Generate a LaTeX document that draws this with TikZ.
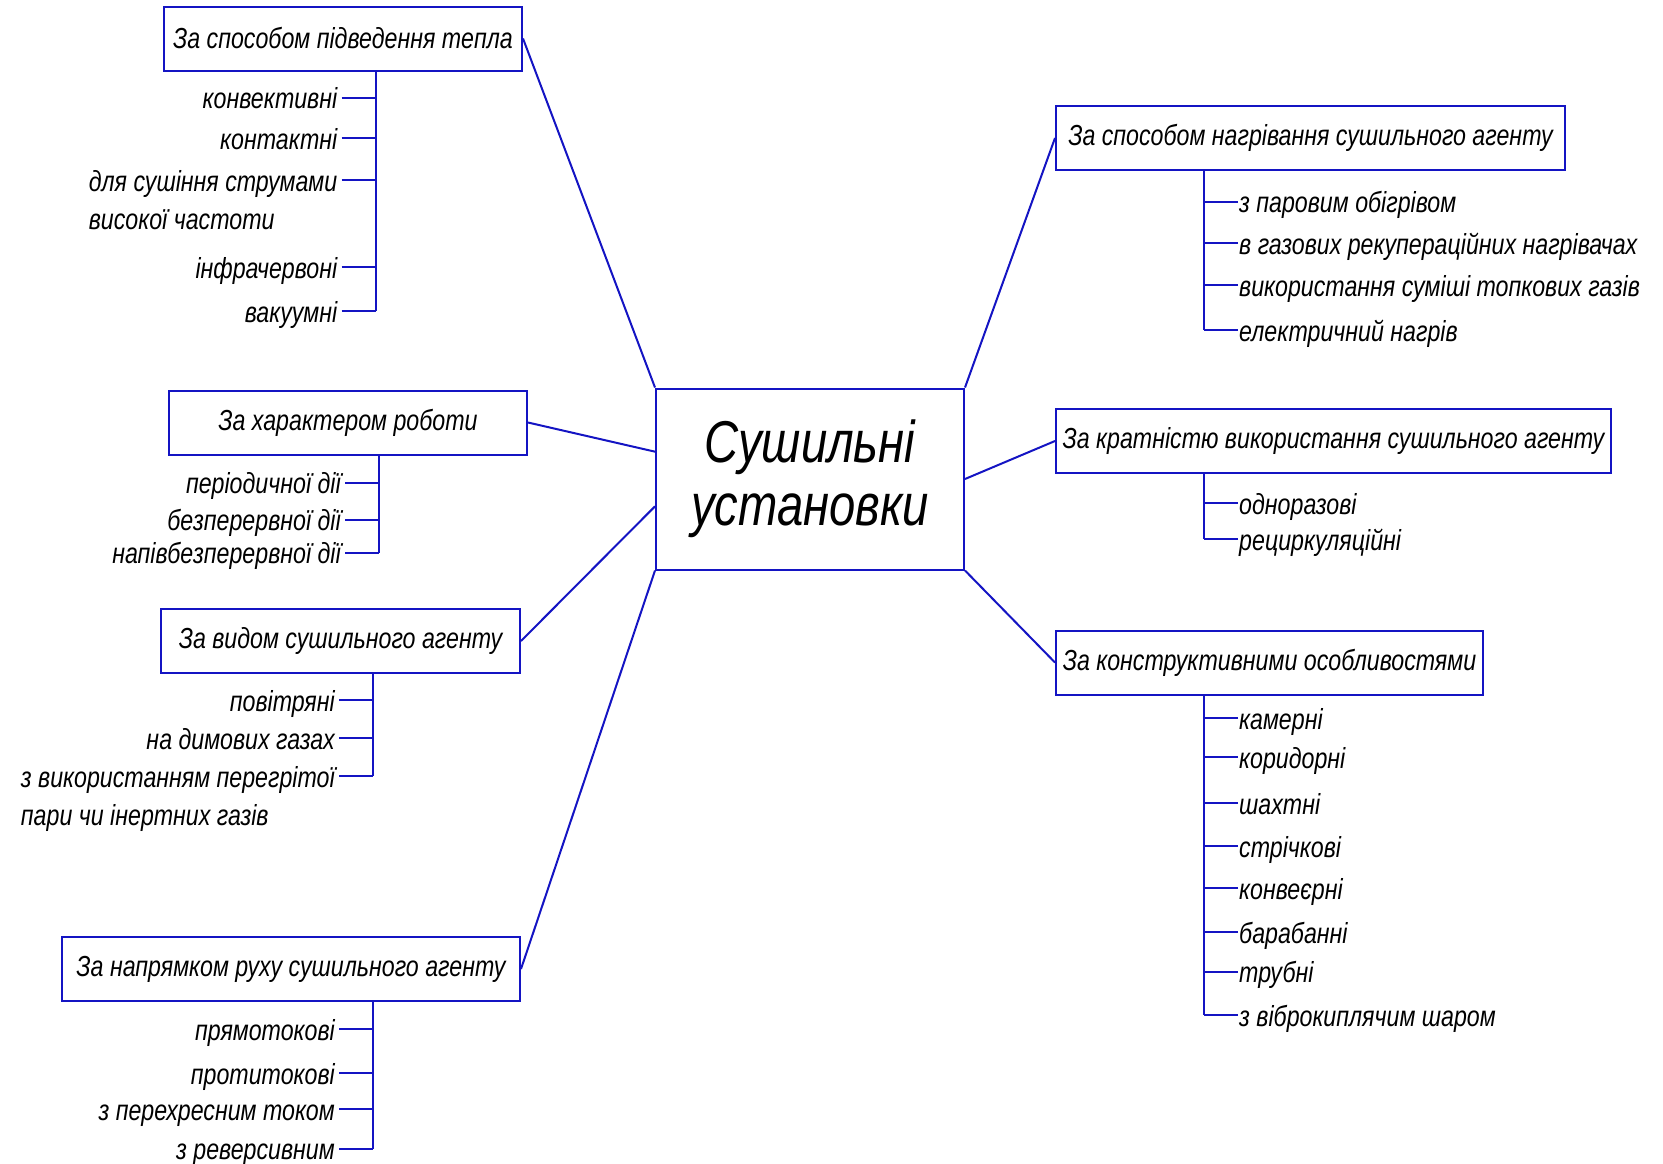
\documentclass[tikz,border=0pt]{standalone}
\usepackage{fontspec}
\setmainfont{Liberation Sans}[FakeStretch=0.8]
\definecolor{linia}{RGB}{20,20,195}

\begin{document}
\begin{tikzpicture}[x=1pt,y=-1pt,font=\itshape\fontsize{29}{34}\selectfont,
  ln/.style={draw=linia,line width=2pt},
  kl/.style={ln,minimum height=64pt,inner sep=3pt},
  lv/.style={inner sep=4pt,anchor=base east},
  pr/.style={inner sep=1pt,anchor=base west}]
\useasboundingbox (0,0) rectangle (1663,1163);
\node[kl,minimum width=308pt,minimum height=181pt,align=center,font=\itshape\fontsize{59}{63}\selectfont] (su) at (810,479) {Сушильні\\установки};
\node[kl,minimum width=358pt] (k1) at (343,38.5) {За способом підведення тепла};
\node[kl,minimum width=358pt] (k2) at (348,422.5) {За характером роботи};
\node[kl,minimum width=359pt] (k3) at (340.5,641) {За видом сушильного агенту};
\node[kl,minimum width=458pt] (k4) at (291,969) {За напрямком руху сушильного агенту};
\node[kl,minimum width=509pt] (k5) at (1310.5,138) {За способом нагрівання сушильного агенту};
\node[kl,minimum width=555pt] (k6) at (1333.5,441) {За кратністю використання сушильного агенту};
\node[kl,minimum width=427pt] (k7) at (1269.5,662.5) {За конструктивними особливостями};
\draw[ln] (k1.east)--(su.north west);
\draw[ln] (k2.east)--(su.170);
\draw[ln] (k3.east)--(su.190);
\draw[ln] (k4.east)--(su.south west);
\draw[ln] (k5.west)--(su.north east);
\draw[ln] (k6.west)--(su.east);
\draw[ln] (k7.west)--(su.south east);
\path (k1.south) ++(32.5,0) coordinate (v1);
\path (k2.south) ++(30.6,0) coordinate (v2);
\path (k3.south) ++(32.5,0) coordinate (v3);
\path (k4.south) ++(82,0) coordinate (v4);
\path (k5.south) ++(-106.5,0) coordinate (v5);
\path (k6.south) ++(-129.5,0) coordinate (v6);
\path (k7.south) ++(-65.5,0) coordinate (v7);
\foreach \i/\y/\t in {1/97.5/конвективні,2/138/контактні,3/180/для сушіння струмами,4/267/інфрачервоні,5/311/вакуумні}{
\node[lv] (a\i) at (341.5,\y+11) {\t};\draw[ln] ([yshift=11pt]a\i.base east)--([yshift=11pt]a\i.base east -| v1);}
\node[inner sep=4pt,anchor=base west] (a3b) at ([yshift=-38pt]a3.base west) {високої частоти};
\draw[ln] (v1)--([yshift=11pt]a5.base east -| v1);
\foreach \i/\y/\t in {1/482.5/періодичної дії,2/519.7/безперервної дії,3/552.6/напівбезперервної дії}{
\node[lv] (b\i) at (345,\y+11) {\t};\draw[ln] ([yshift=11pt]b\i.base east)--([yshift=11pt]b\i.base east -| v2);}
\draw[ln] (v2)--([yshift=11pt]b3.base east -| v2);
\foreach \i/\y/\t in {1/700/повітряні,2/738/на димових газах,3/776/з використанням перегрітої}{
\node[lv] (c\i) at (339,\y+11) {\t};\draw[ln] ([yshift=11pt]c\i.base east)--([yshift=11pt]c\i.base east -| v3);}
\node[inner sep=4pt,anchor=base west] (c3b) at ([yshift=-38pt]c3.base west) {пари чи інертних газів};
\draw[ln] (v3)--([yshift=11pt]c3.base east -| v3);
\foreach \i/\y/\t in {1/1029/прямотокові,2/1073/протитокові,3/1109/з перехресним током,4/1148.6/з реверсивним}{
\node[lv] (d\i) at (339,\y+11) {\t};\draw[ln] ([yshift=11pt]d\i.base east)--([yshift=11pt]d\i.base east -| v4);}
\draw[ln] (v4)--([yshift=11pt]d4.base east -| v4);
\foreach \i/\y/\t in {1/201.5/з паровим обігрівом,2/243/в газових рекупераційних нагрівачах,3/285/використання суміші топкових газів,4/330/електричний нагрів}{
\node[pr] (e\i) at (1238,\y+11) {\t};\draw[ln] ([yshift=11pt]e\i.base west)--([yshift=11pt]e\i.base west -| v5);}
\draw[ln] (v5)--([yshift=11pt]e4.base west -| v5);
\foreach \i/\y/\t in {1/503/одноразові,2/539/рециркуляційні}{
\node[pr] (f\i) at (1238,\y+11) {\t};\draw[ln] ([yshift=11pt]f\i.base west)--([yshift=11pt]f\i.base west -| v6);}
\draw[ln] (v6)--([yshift=11pt]f2.base west -| v6);
\foreach \i/\y/\t in {1/718/камерні,2/757/коридорні,3/803/шахтні,4/846/стрічкові,5/888/конвеєрні,6/932/барабанні,7/971.5/трубні,8/1015/з віброкиплячим шаром}{
\node[pr] (g\i) at (1238,\y+11) {\t};\draw[ln] ([yshift=11pt]g\i.base west)--([yshift=11pt]g\i.base west -| v7);}
\draw[ln] (v7)--([yshift=11pt]g8.base west -| v7);
\end{tikzpicture}
\end{document}
